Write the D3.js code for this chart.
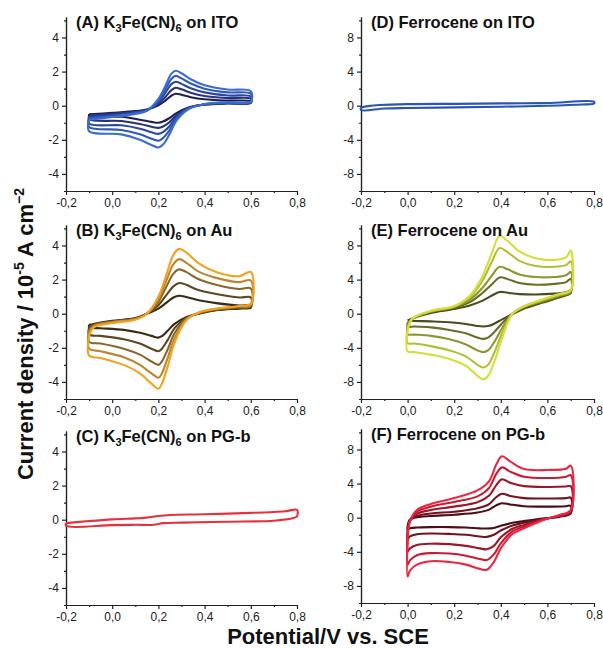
<!DOCTYPE html>
<html>
<head>
<meta charset="utf-8">
<script src="https://cdn.jsdelivr.net/npm/d3@7"></script>
<style>
  body { margin: 0; background: #fff; }
  svg { font-family: Arial, "Liberation Sans", sans-serif; }
  .tick text { font-size: 12px; fill: #222; }
  .axis path, .axis line { stroke: #222; stroke-width: 1.2; }
</style>
</head>
<body>
<div id="chart"></div>
<script>

// x ticks shared by all panels
var xTicks = [-0.2, 0.0, 0.2, 0.4, 0.6, 0.8];
var xMinor = [-0.1, 0.1, 0.3, 0.5, 0.7];
var yTicksK = [-4, -2, 0, 2, 4];
var yMinorK = [-5, -3, -1, 1, 3, 5];
var yTicksF = [-8, -4, 0, 4, 8];
var yMinorF = [-10, -6, -2, 2, 6, 10];

// (A) K3Fe(CN)6 on ITO, potential grid (forward then reverse)
var eA = [-0.1, 0.0, 0.1, 0.15, 0.2, 0.23, 0.255, 0.275, 0.3, 0.34, 0.4, 0.5, 0.6,
          0.6, 0.5, 0.4, 0.33, 0.28, 0.245, 0.22, 0.2, 0.17, 0.12, 0.04, -0.1];
var jA1 = [-0.5, -0.42, -0.32, -0.22, 0.02, 0.3, 0.58, 0.7, 0.64, 0.5, 0.38, 0.3, 0.26,
           0.16, 0.13, 0.06, -0.1, -0.42, -0.75, -0.93, -1.0, -0.95, -0.82, -0.65, -0.6];
var jA2 = [-0.58, -0.48, -0.36, -0.24, 0.1, 0.5, 0.9, 1.05, 0.96, 0.76, 0.57, 0.45, 0.4,
           0.18, 0.14, 0.07, -0.13, -0.55, -1.0, -1.22, -1.3, -1.23, -1.07, -0.9, -0.8];
var jA3 = [-0.66, -0.55, -0.4, -0.26, 0.2, 0.75, 1.25, 1.4, 1.28, 1.02, 0.78, 0.6, 0.54,
           0.2, 0.16, 0.08, -0.15, -0.65, -1.25, -1.55, -1.65, -1.56, -1.35, -1.15, -1.05];
var jA4 = [-0.74, -0.6, -0.44, -0.28, 0.3, 0.95, 1.55, 1.75, 1.6, 1.3, 1.0, 0.78, 0.7,
           0.22, 0.18, 0.09, -0.18, -0.75, -1.5, -1.9, -2.05, -1.93, -1.68, -1.42, -1.25];
var jA5 = [-0.82, -0.66, -0.48, -0.3, 0.4, 1.15, 1.85, 2.05, 1.9, 1.55, 1.2, 0.95, 0.85,
           0.25, 0.2, 0.1, -0.2, -0.85, -1.75, -2.28, -2.45, -2.3, -2.0, -1.68, -1.5];
var colA = ["#1f2052", "#27337e", "#2c47a2", "#3259ba", "#3b6dcc"];

// (B) K3Fe(CN)6 on Au
var eB = [-0.1, -0.08, 0.0, 0.1, 0.15, 0.2, 0.235, 0.265, 0.29, 0.32, 0.37, 0.45, 0.55, 0.6,
          0.6, 0.55, 0.45, 0.38, 0.32, 0.27, 0.24, 0.215, 0.2, 0.17, 0.12, 0.05, -0.05, -0.1];
var jB1 = [-0.65, -0.6, -0.42, -0.26, 0.0, 0.3, 0.65, 0.95, 1.05, 0.98, 0.8, 0.62, 0.48, 0.48,
           0.35, 0.3, 0.2, 0.02, -0.2, -0.6, -1.0, -1.32, -1.4, -1.3, -1.12, -0.95, -0.85, -0.8];
var jB2 = [-0.8, -0.64, -0.45, -0.28, 0.0, 0.5, 1.1, 1.6, 1.8, 1.7, 1.4, 1.15, 0.95, 0.95,
           0.4, 0.34, 0.22, 0.04, -0.25, -0.85, -1.55, -2.05, -2.2, -2.05, -1.75, -1.5, -1.3, -1.22];
var jB3 = [-0.95, -0.68, -0.48, -0.3, 0.0, 0.7, 1.6, 2.35, 2.6, 2.45, 2.05, 1.7, 1.45, 1.48,
           0.45, 0.38, 0.25, 0.06, -0.3, -1.15, -2.1, -2.8, -3.0, -2.8, -2.4, -2.05, -1.75, -1.65];
var jB4 = [-1.1, -0.72, -0.5, -0.32, 0.0, 0.85, 1.95, 2.9, 3.2, 3.0, 2.5, 2.1, 1.85, 1.95,
           0.5, 0.42, 0.28, 0.08, -0.35, -1.45, -2.6, -3.5, -3.75, -3.5, -3.0, -2.55, -2.2, -2.05];
var jB5 = [-1.3, -0.8, -0.55, -0.35, 0.0, 1.0, 2.3, 3.45, 3.8, 3.6, 3.0, 2.45, 2.2, 2.45,
           0.6, 0.45, 0.3, 0.1, -0.4, -1.7, -3.1, -4.1, -4.4, -4.1, -3.5, -3.0, -2.6, -2.45];
var colB = ["#3a2c12", "#5e4822", "#87672c", "#ba882c", "#f2a21e"];

// (C) K3Fe(CN)6 on PG-b
var eC = [-0.2, -0.1, 0.0, 0.1, 0.15, 0.2, 0.25, 0.4, 0.6, 0.75, 0.8,
          0.8, 0.78, 0.7, 0.5, 0.3, 0.22, 0.18, 0.1, 0.0, -0.2];
var jC = [-0.2, -0.08, 0.02, 0.08, 0.12, 0.22, 0.28, 0.32, 0.4, 0.5, 0.58,
          0.2, 0.08, -0.06, -0.12, -0.17, -0.2, -0.3, -0.3, -0.32, -0.36];
var colC = ["#e8303c"];

// (D) Ferrocene on ITO
var eD = [-0.2, -0.17, -0.12, 0.0, 0.2, 0.4, 0.6, 0.8,
          0.8, 0.75, 0.6, 0.4, 0.2, 0.0, -0.1, -0.2];
var jD = [-0.2, -0.05, 0.08, 0.18, 0.22, 0.27, 0.32, 0.45,
          0.25, 0.15, 0.0, -0.12, -0.2, -0.27, -0.33, -0.5];
var colD = ["#2a56b2"];

// (E) Ferrocene on Au
var eE = [0.0, 0.02, 0.1, 0.2, 0.27, 0.32, 0.36, 0.395, 0.43, 0.48, 0.55, 0.63, 0.68, 0.7,
          0.7, 0.65, 0.58, 0.5, 0.45, 0.41, 0.37, 0.345, 0.325, 0.3, 0.25, 0.18, 0.1, 0.03, 0.0];
var jE1 = [-0.8, -0.55, 0.1, 0.55, 1.0, 1.5, 2.1, 2.55, 2.45, 2.3, 2.25, 2.35, 2.5, 2.75,
           2.4, 1.9, 1.3, 0.6, -0.05, -0.6, -1.2, -1.45, -1.5, -1.45, -1.2, -1.0, -0.9, -0.85, -0.8];
var jE2 = [-1.1, -0.6, 0.2, 0.7, 1.4, 2.4, 3.4, 4.25, 4.05, 3.6, 3.4, 3.5, 3.7, 4.1,
           2.5, 2.0, 1.4, 0.7, 0.0, -1.0, -2.2, -2.8, -2.95, -2.8, -2.3, -1.9, -1.6, -1.5, -1.5];
var jE3 = [-1.4, -0.6, 0.25, 0.8, 1.7, 3.0, 4.4, 5.5, 5.2, 4.6, 4.3, 4.3, 4.5, 4.9,
           2.6, 2.1, 1.5, 0.8, 0.0, -1.5, -3.4, -4.3, -4.5, -4.3, -3.6, -3.0, -2.6, -2.45, -2.4];
var jE4 = [-1.7, -0.6, 0.3, 0.85, 2.0, 3.8, 6.0, 7.7, 7.2, 6.2, 5.6, 5.5, 5.7, 6.15,
           2.7, 2.2, 1.6, 0.85, 0.0, -2.0, -4.7, -6.0, -6.3, -6.0, -5.0, -4.3, -3.8, -3.5, -3.45];
var jE5 = [-2.0, -0.6, 0.35, 0.9, 2.2, 4.3, 7.0, 9.1, 8.5, 7.3, 6.5, 6.3, 6.6, 7.4,
           2.8, 2.3, 1.7, 0.9, 0.0, -2.5, -5.8, -7.3, -7.7, -7.3, -6.1, -5.3, -4.8, -4.5, -4.4];
var colE = ["#4b4b1f", "#6b6e28", "#8f9530", "#b5bd34", "#d6df3a"];

// (F) Ferrocene on PG-b
var eF = [0.0, 0.01, 0.04, 0.1, 0.2, 0.3, 0.35, 0.38, 0.405, 0.44, 0.5, 0.6, 0.68, 0.7,
          0.7, 0.65, 0.58, 0.5, 0.45, 0.4, 0.37, 0.34, 0.31, 0.25, 0.18, 0.1, 0.04, 0.01, 0.0];
var jF1 = [-1.0, -0.2, 0.05, 0.2, 0.35, 0.6, 0.95, 1.45, 1.7, 1.55, 1.35, 1.3, 1.35, 1.4,
           0.5, 0.1, -0.1, -0.4, -0.6, -0.95, -1.2, -1.27, -1.25, -1.15, -1.1, -1.1, -1.15, -1.25, -1.4];
var jF2 = [-1.5, -0.3, 0.2, 0.5, 0.7, 1.1, 1.6, 2.4, 2.8, 2.55, 2.3, 2.25, 2.3, 2.35,
           0.6, 0.15, -0.15, -0.6, -0.9, -1.5, -2.0, -2.25, -2.2, -2.0, -1.9, -1.85, -1.95, -2.2, -2.5];
var jF3 = [-2.0, -0.35, 0.45, 0.9, 1.3, 1.8, 2.6, 3.8, 4.5, 4.1, 3.7, 3.6, 3.65, 3.7,
           0.7, 0.2, -0.2, -0.85, -1.3, -2.3, -3.3, -3.7, -3.6, -3.3, -3.1, -3.05, -3.2, -3.6, -4.0];
var jF4 = [-2.5, -0.4, 0.7, 1.3, 1.85, 2.5, 3.5, 5.1, 5.9, 5.4, 4.8, 4.65, 4.8, 5.0,
           0.8, 0.25, -0.25, -1.05, -1.6, -3.0, -4.3, -4.95, -4.85, -4.45, -4.2, -4.15, -4.4, -5.0, -5.5];
var jF5 = [-3.0, -0.4, 0.9, 1.6, 2.3, 3.2, 4.3, 6.2, 7.2, 6.6, 5.7, 5.6, 5.75, 6.1,
           0.9, 0.3, -0.3, -1.25, -1.9, -3.6, -5.2, -6.1, -6.0, -5.5, -5.2, -5.1, -5.5, -6.2, -6.9];
var colF = ["#4e0d16", "#74121f", "#9c1729", "#c91c33", "#ec2641"];

// panel layout
var colX = [[66, 297], [361, 594]];
var rowY = [[191, 17], [399, 225], [605, 431]];

var panels = [
    { id: "A", col: 0, row: 0, kind: "K", sub: "ITO", e: eA, j: [jA1, jA2, jA3, jA4, jA5], c: colA },
    { id: "B", col: 0, row: 1, kind: "K", sub: "Au", e: eB, j: [jB1, jB2, jB3, jB4, jB5], c: colB },
    { id: "C", col: 0, row: 2, kind: "K", sub: "PG-b", e: eC, j: [jC], c: colC },
    { id: "D", col: 1, row: 0, kind: "F", sub: "ITO", e: eD, j: [jD], c: colD },
    { id: "E", col: 1, row: 1, kind: "F", sub: "Au", e: eE, j: [jE1, jE2, jE3, jE4, jE5], c: colE },
    { id: "F", col: 1, row: 2, kind: "F", sub: "PG-b", e: eF, j: [jF1, jF2, jF3, jF4, jF5], c: colF }
];

var svg = d3.select("#chart").append("svg")
    .attr("width", 603)
    .attr("height", 648);

var fmtX = function (d) { return d.toFixed(1).replace(".", ","); };

panels.forEach(function (p) {
    var x = d3.scaleLinear().domain([-0.2, 0.8]).range(colX[p.col]);
    var yr = rowY[p.row].slice();
    if (p.col === 1 && p.row === 2) { yr = [603, 429]; }
    var y = d3.scaleLinear()
        .domain(p.kind === "K" ? [-5, 5.2] : [-10, 10.4])
        .range(yr);

    var g = svg.append("g");

    // minor ticks
    g.append("g").attr("class", "axis")
        .attr("transform", "translate(0," + yr[0] + ")")
        .call(d3.axisBottom(x).tickValues(xMinor).tickSize(2).tickSizeOuter(0).tickFormat(""));
    g.append("g").attr("class", "axis")
        .attr("transform", "translate(" + colX[p.col][0] + ",0)")
        .call(d3.axisLeft(y).tickValues(p.kind === "K" ? yMinorK : yMinorF)
            .tickSize(2).tickSizeOuter(0).tickFormat(""));

    // major ticks
    g.append("g").attr("class", "axis")
        .attr("transform", "translate(0," + yr[0] + ")")
        .call(d3.axisBottom(x).tickValues(xTicks).tickSize(4).tickSizeOuter(0)
            .tickPadding(3).tickFormat(fmtX));
    g.append("g").attr("class", "axis")
        .attr("transform", "translate(" + colX[p.col][0] + ",0)")
        .call(d3.axisLeft(y).tickValues(p.kind === "K" ? yTicksK : yTicksF)
            .tickSize(4).tickSizeOuter(0).tickPadding(3)
            .tickFormat(function (d) { return String(d); }));

    // curves
    var line = d3.line()
        .x(function (d) { return x(d[0]); })
        .y(function (d) { return y(d[1]); })
        .curve(d3.curveCatmullRom.alpha(0.5));

    p.j.forEach(function (vals, i) {
        var pts = p.e.map(function (ev, k) { return [ev, vals[k]]; });
        pts.push(pts[0]);
        g.append("path")
            .attr("d", line(pts))
            .attr("fill", "none")
            .attr("stroke", p.c[i])
            .attr("stroke-width", 2.1)
            .attr("stroke-linejoin", "round");
    });

    // title
    var t = g.append("text")
        .attr("x", colX[p.col][0] + 10)
        .attr("y", yr[1] + 11)
        .attr("font-size", 16.5)
        .attr("font-weight", "bold")
        .attr("fill", "#111");
    if (p.kind === "K") {
        t.append("tspan").text("(" + p.id + ") K");
        t.append("tspan").attr("font-size", 11).attr("dy", 4).text("3");
        t.append("tspan").attr("dy", -4).text("Fe(CN)");
        t.append("tspan").attr("font-size", 11).attr("dy", 4).text("6");
        t.append("tspan").attr("dy", -4).text(" on " + p.sub);
    } else {
        t.text("(" + p.id + ") Ferrocene on " + p.sub);
    }
});

// axis titles
var yl = svg.append("text")
    .attr("transform", "translate(33,334) rotate(-90)")
    .attr("text-anchor", "middle")
    .attr("font-size", 22)
    .attr("font-weight", "bold")
    .attr("fill", "#111");
yl.append("tspan").text("Current density / 10");
yl.append("tspan").attr("font-size", 14).attr("dy", -9).text("-5");
yl.append("tspan").attr("dy", 9).text(" A cm");
yl.append("tspan").attr("font-size", 14).attr("dy", -9).text("\u22122");

svg.append("text")
    .attr("x", 328)
    .attr("y", 644)
    .attr("text-anchor", "middle")
    .attr("font-size", 22)
    .attr("font-weight", "bold")
    .attr("fill", "#111")
    .text("Potential/V  vs. SCE");

</script>
</body>
</html>
